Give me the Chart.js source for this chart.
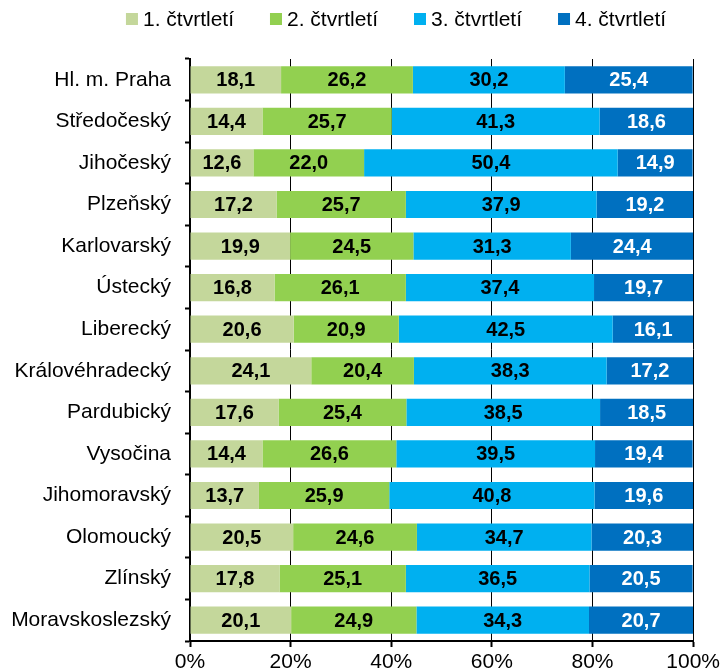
<!DOCTYPE html>
<html>
<head>
<meta charset="utf-8">
<script src="https://cdn.jsdelivr.net/npm/chart.js@4/dist/chart.umd.min.js"></script>
<style>
html,body{margin:0;padding:0;background:#fff;}
#wrap{width:723px;height:670px;}
</style>
</head>
<body>
<div id="wrap"><canvas id="c" width="723" height="670"></canvas></div>
<script>
const categories = ["Hl. m. Praha","Středočeský","Jihočeský","Plzeňský","Karlovarský","Ústecký","Liberecký","Královéhradecký","Pardubický","Vysočina","Jihomoravský","Olomoucký","Zlínský","Moravskoslezský"];
const seriesNames = ["1. čtvrtletí","2. čtvrtletí","3. čtvrtletí","4. čtvrtletí"];
const q1 = [18.1,14.4,12.6,17.2,19.9,16.8,20.6,24.1,17.6,14.4,13.7,20.5,17.8,20.1];
const q2 = [26.2,25.7,22.0,25.7,24.5,26.1,20.9,20.4,25.4,26.6,25.9,24.6,25.1,24.9];
const q3 = [30.2,41.3,50.4,37.9,31.3,37.4,42.5,38.3,38.5,39.5,40.8,34.7,36.5,34.3];
const q4 = [25.4,18.6,14.9,19.2,24.4,19.7,16.1,17.2,18.5,19.4,19.6,20.3,20.5,20.7];
const xTicks = [0,20,40,60,80,100];

const colors = ["#C4D79B","#92D050","#00B0F0","#0070C0"];
const labelColors = ["#000","#000","#000","#fff"];
const FONT = "'Liberation Sans', Arial, sans-serif";

const dataLabels = {
  id: 'dataLabels',
  afterDatasetsDraw(chart) {
    const ctx = chart.ctx;
    ctx.save();
    ctx.font = "bold 20px " + FONT;
    ctx.textAlign = 'center';
    ctx.textBaseline = 'middle';
    chart.data.datasets.forEach((ds, di) => {
      const meta = chart.getDatasetMeta(di);
      meta.data.forEach((el, i) => {
        const cx = (el.x + el.base) / 2;
        ctx.fillStyle = labelColors[di];
        ctx.fillText(ds.data[i].toFixed(1).replace('.', ','), cx, el.y + 1);
      });
    });
    ctx.restore();
  }
};

const customLegend = {
  id: 'customLegend',
  afterDraw(chart) {
    const ctx = chart.ctx;
    ctx.save();
    ctx.font = "21px " + FONT;
    ctx.textBaseline = 'middle';
    ctx.textAlign = 'left';
    const box = 12, gapBox = 5, gapItem = 36;
    const widths = seriesNames.map(n => box + gapBox + ctx.measureText(n).width);
    const total = widths.reduce((a,b)=>a+b,0) + gapItem*(widths.length-1);
    let x = 396 - total/2;
    const y = 19;
    seriesNames.forEach((n, i) => {
      ctx.fillStyle = colors[i];
      ctx.fillRect(x, y - box/2, box, box);
      ctx.fillStyle = '#000';
      ctx.fillText(n, x + box + gapBox, y + 1);
      x += widths[i] + gapItem;
    });
    ctx.restore();
  }
};

const series = [q1,q2,q3,q4];
new Chart(document.getElementById('c'), {
  type: 'bar',
  data: {
    labels: categories,
    datasets: series.map((d, i) => ({
      label: seriesNames[i],
      data: d,
      backgroundColor: colors[i],
      borderWidth: 0,
      barPercentage: 0.655,
      categoryPercentage: 1.0
    }))
  },
  options: {
    indexAxis: 'y',
    responsive: false,
    animation: false,
    devicePixelRatio: 1,
    layout: { padding: { top: 59, right: 29, left: 0, bottom: 0 } },
    plugins: {
      legend: { display: false },
      tooltip: { enabled: false }
    },
    scales: {
      x: {
        stacked: true,
        min: 0, max: 100,
        afterBuildTicks(scale) { scale.ticks = xTicks.map(v => ({ value: v })); },
        afterFit(scale) { scale.height = 29; },
        ticks: {
          callback: v => v + '%',
          color: '#000',
          font: { family: FONT, size: 21 },
          padding: 3,
          maxRotation: 0
        },
        grid: {
          color: '#000',
          lineWidth: 1,
          borderDash: [5, 3],
          drawTicks: true,
          tickLength: 6,
          tickColor: '#000',
          tickWidth: 2,
          tickBorderDash: []
        },
        border: { display: true, color: '#000', width: 2 }
      },
      y: {
        stacked: true,
        afterFit(scale) { scale.width = 190; },
        ticks: {
          color: '#000',
          font: { family: FONT, size: 21 },
          padding: 14
        },
        grid: {
          drawOnChartArea: false,
          drawTicks: true,
          tickLength: 5,
          tickColor: '#000',
          tickWidth: 2,
          offset: true
        },
        border: { display: true, color: '#000', width: 2 }
      }
    }
  },
  plugins: [dataLabels, customLegend]
});
</script>
</body>
</html>
